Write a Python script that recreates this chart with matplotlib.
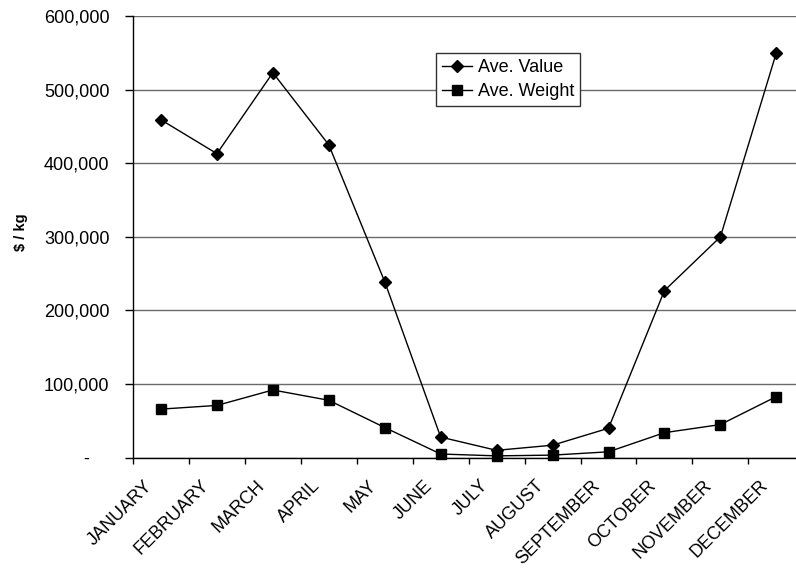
import matplotlib
matplotlib.use("Agg")
import matplotlib.pyplot as plt
from matplotlib.ticker import FixedLocator, FuncFormatter
from matplotlib.transforms import ScaledTranslation

plt.rcParams['font.family'] = ['Liberation Sans', 'DejaVu Sans']

months = ["JANUARY", "FEBRUARY", "MARCH", "APRIL", "MAY", "JUNE", "JULY",
          "AUGUST", "SEPTEMBER", "OCTOBER", "NOVEMBER", "DECEMBER"]
ave_value = [459000, 413000, 523000, 425000, 239000, 28000, 10000,
             17000, 40000, 227000, 300000, 550000]
ave_weight = [66000, 71000, 92000, 78000, 41000, 5000, 2500,
              3500, 8000, 34000, 45000, 83000]
y_ticks = [0, 100000, 200000, 300000, 400000, 500000, 600000]

W, H = 796, 570
fig = plt.figure(figsize=(W / 100, H / 100), dpi=100)
left, right, top, bottom = 133, 804.3, 16, 457.7
ax = fig.add_axes([left / W, 1 - bottom / H, (right - left) / W, (bottom - top) / H])

x = list(range(len(months)))
ax.plot(x, ave_value, color='black', lw=1, marker='D', ms=6.5,
        label='Ave. Value', zorder=3, clip_on=False)
ax.plot(x, ave_weight, color='black', lw=1, marker='s', ms=7.8,
        label='Ave. Weight', zorder=3, clip_on=False)

ax.set_xlim(-0.5, len(months) - 0.5)
ax.set_ylim(0, 600000)

# category ticks sit between months; labels at month centres
ax.xaxis.set_major_locator(FixedLocator([i - 0.5 for i in range(len(months) + 1)]))
ax.xaxis.set_major_formatter(FuncFormatter(lambda v, p: ""))
ax.xaxis.set_minor_locator(FixedLocator(x))
ax.tick_params(axis='x', which='major', direction='out', length=4, width=1)
ax.tick_params(axis='x', which='minor', length=0, pad=14)
labels = ax.set_xticklabels(months, minor=True, rotation=45, ha='right', va='top',
                            rotation_mode='anchor', fontsize=13)
shift = ScaledTranslation(-17 / 100, 0, fig.dpi_scale_trans)
for lab in labels:
    lab.set_transform(lab.get_transform() + shift)

ax.yaxis.set_major_locator(FixedLocator(y_ticks))
ax.yaxis.set_major_formatter(FuncFormatter(
    lambda v, p: "-    " if v == 0 else f"{int(v):,}"))
ax.tick_params(axis='y', direction='out', length=6, width=1, labelsize=13, pad=11)

ax.grid(axis='y', color='#6a6a6a', lw=1)
ax.set_axisbelow(True)
for s in ['top', 'right']:
    ax.spines[s].set_visible(False)
for s in ['left', 'bottom']:
    ax.spines[s].set_linewidth(1)

ax.set_ylabel("$ / kg", fontsize=10.5, fontweight='bold')
ax.yaxis.set_label_coords((27.5 - left) / (right - left), 0.51)

leg = ax.legend(loc='upper left', bbox_to_anchor=((436 - left) / (right - left),
                                                  1 - (53.3 - top) / (bottom - top)),
                fontsize=13, frameon=True, fancybox=False, edgecolor='#333333',
                framealpha=1, borderpad=0.32, handlelength=1.7, handletextpad=0.3,
                labelspacing=0.4, borderaxespad=0)
leg.get_frame().set_linewidth(1)

fig.savefig("out.png", dpi=100)
